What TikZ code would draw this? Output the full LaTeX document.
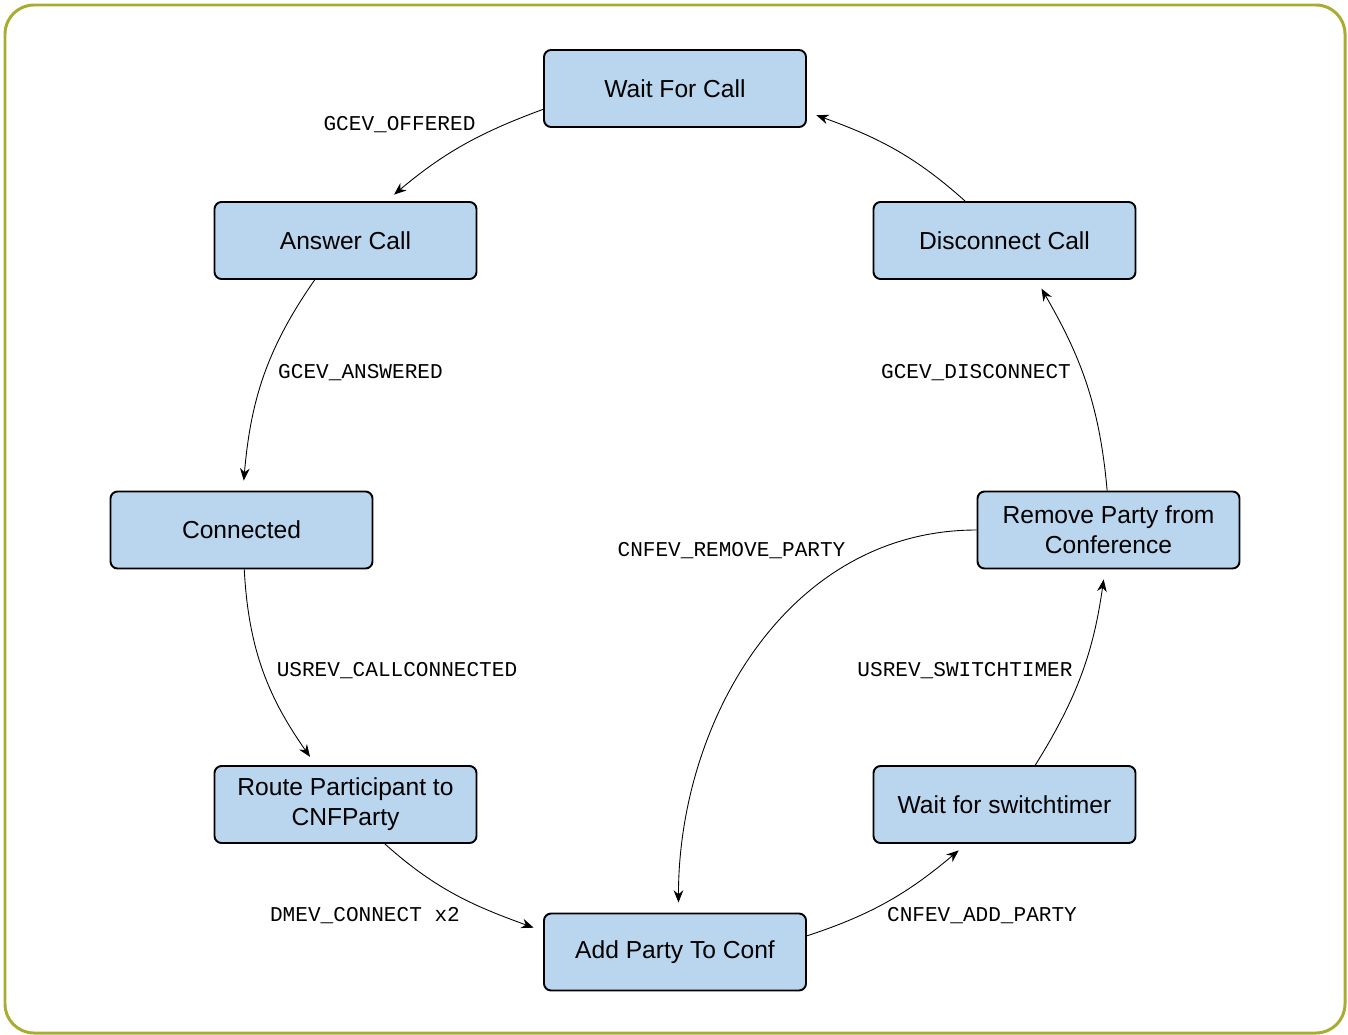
\documentclass[tikz,border=0pt]{standalone}
\usepackage{fontspec}
\setmainfont{Liberation Sans}
\newfontfamily\lblfont{Liberation Mono}
\usetikzlibrary{arrows.meta}
\definecolor{FrameClr}{RGB}{168,173,50}
\definecolor{StateClr}{RGB}{186,214,238}

\begin{document}
\begin{tikzpicture}[
  StateBox/.style={draw=black,fill=StateClr,line width=1.1pt,rounded corners=4pt,
    minimum width=5.24cm,minimum height=1.54cm,align=center,inner sep=2pt,
    font=\fontsize{14}{17}\selectfont},
  EvtLbl/.style={anchor=base,inner sep=0pt,font=\lblfont\fontsize{12}{14}\selectfont},
  Trans/.style={line width=0.5pt,-{Stealth[length=7pt,width=5.5pt]},shorten >=0.2cm}]

\useasboundingbox (0,0) rectangle (26.96,-20.7);

% Frame.
\draw[FrameClr,line width=1.7pt,rounded corners=0.58cm] (0.1,-0.1) rectangle (26.9,-20.66);

% States.
\node[StateBox] (wait) at (13.5,-1.77) {Wait For Call};
\node[StateBox] (answer) at (6.91,-4.81) {Answer Call};
\node[StateBox] (disconnect) at (20.09,-4.81) {Disconnect Call};
\node[StateBox] (connected) at (4.83,-10.6) {Connected};
\node[StateBox] (remove) at (22.17,-10.6) {Remove Party from\\Conference};
\node[StateBox] (route) at (6.91,-16.09) {Route Participant to\\CNFParty};
\node[StateBox] (switchtimer) at (20.09,-16.09) {Wait for switchtimer};
\node[StateBox] (add) at (13.5,-19.04) {Add Party To Conf};

% Transitions.
\draw[Trans] (wait.189) to[out=200,in=40] (answer.44);
\draw[Trans] (answer.232) to[out=235,in=85] (connected.88);
\draw[Trans] (connected.274) to[out=273,in=125] (route.127);
\draw[Trans] (route.315) to[out=318,in=160] (add.171);
\draw[Trans] (add.7) to[out=18,in=220] (switchtimer.226);
\draw[Trans] (switchtimer.52) to[out=58,in=262] (remove.265);
\draw[Trans] (remove.92) to[out=95,in=300] (disconnect.309);
\draw[Trans] (disconnect.135) to[out=138,in=340] (wait.350);
\draw[Trans] (remove.west) to[out=180,in=90] (add.85);

% Events.
\node[EvtLbl] (offered) at (7.99,-2.61) {GCEV\_OFFERED};
\node[EvtLbl] (answered) at (7.21,-7.57) {GCEV\_ANSWERED};
\node[EvtLbl] (callconn) at (7.94,-13.53) {USREV\_CALLCONNECTED};
\node[EvtLbl] (dmconn) at (7.3,-18.43) {DMEV\_CONNECT x2};
\node[EvtLbl] (addparty) at (19.64,-18.43) {CNFEV\_ADD\_PARTY};
\node[EvtLbl] (swtimer) at (19.3,-13.53) {USREV\_SWITCHTIMER};
\node[EvtLbl] (gcdisc) at (19.52,-7.57) {GCEV\_DISCONNECT};
\node[EvtLbl] (rmparty) at (14.63,-11.12) {CNFEV\_REMOVE\_PARTY};

\end{tikzpicture}
\end{document}
